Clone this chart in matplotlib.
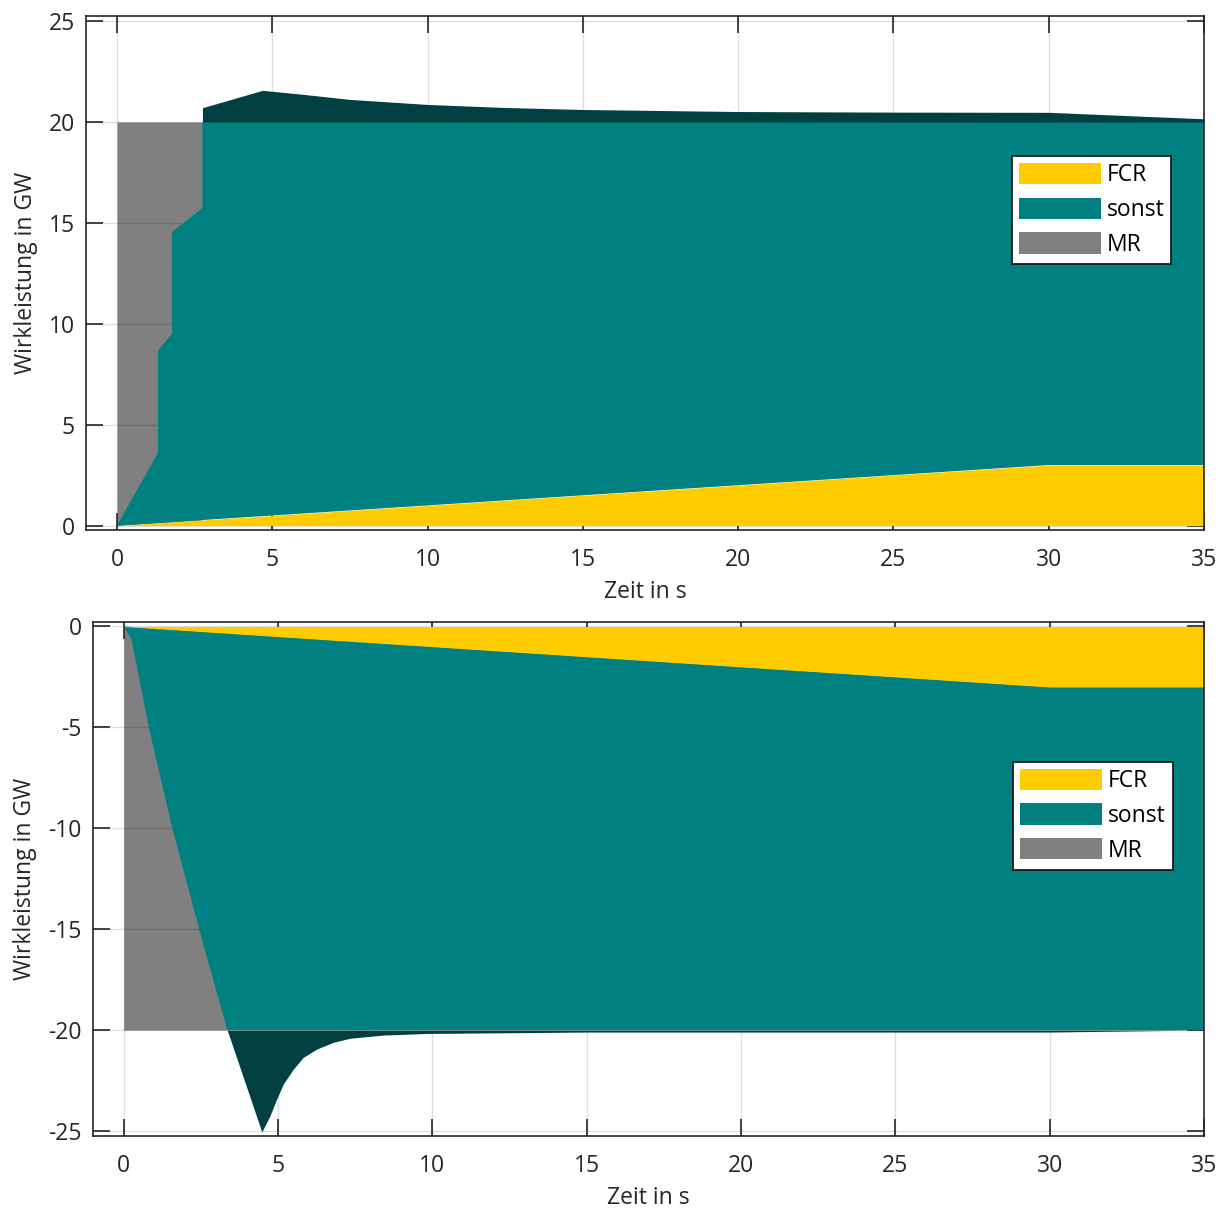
import numpy as np
import matplotlib
matplotlib.use("Agg")
import matplotlib.pyplot as plt
from matplotlib.patches import Patch

plt.rcParams['font.family'] = ['Open Sans', 'DejaVu Sans']
plt.rcParams['axes.unicode_minus'] = False

# Farben
C_FCR = "#FFCC00"
C_SONST = "#008080"
C_MR = "#808080"
C_OVER = "#004040"

# --- Daten oben (positiver Sprung) ---
t_top = [0, 1.32, 1.32, 1.77, 1.77, 2.75, 2.75, 4.68, 6.0, 7.5, 10, 12.5, 15, 20, 25, 30, 35]
p_top = [0, 3.62, 8.68, 9.51, 14.54, 15.75, 20.71, 21.57, 21.37, 21.12, 20.87, 20.72, 20.62, 20.52, 20.49, 20.48, 20.16]
fcr_t_top = [0, 30, 35]
fcr_p_top = [0, 3, 3]
mr_t_top = [0, 2.75]
mr_p_top = [20, 20]

# --- Daten unten (negativer Sprung) ---
t_bot = [0, 0.25, 0.81, 1.57, 2.44, 3.35, 4.47, 4.73, 4.95, 5.16, 5.49, 5.81, 6.24,
         6.78, 7.32, 8.4, 9.81, 15, 20, 25, 30, 35]
p_bot = [0, -0.65, -5, -10, -15, -20, -25.05, -24.26, -23.43, -22.69, -21.94, -21.36, -20.95,
         -20.61, -20.41, -20.25, -20.17, -20.1, -20.1, -20.1, -20.1, -20.0]
fcr_t_bot = [0, 30, 35]
fcr_p_bot = [0, -3, -3]
mr_t_bot = [0, 3.4]
mr_p_bot = [-20, -20]

xticks = [0, 5, 10, 15, 20, 25, 30, 35]
yticks_top = [0, 5, 10, 15, 20, 25]
yticks_bot = [-25, -20, -15, -10, -5, 0]

FS = 16.5


def draw_panel(ax, t, p, fcr_t, fcr_p, mr_t, mr_p, limit, yticks, ylim):
    t = np.array(t)
    p = np.array(p)
    fcr_t = np.array(fcr_t)
    fcr_p = np.array(fcr_p)

    # MR (hinten), beginnt an der FCR-Kante
    mr_base = np.interp(mr_t, fcr_t, fcr_p)
    ax.fill_between(mr_t, mr_base, mr_p, color=C_MR, lw=0, zorder=1)

    # Gitter zwischen MR und den anderen Flächen
    for xv in xticks:
        ax.axvline(xv, color="black", alpha=0.13, lw=1, zorder=1.5)
    for yv in yticks:
        ax.axhline(yv, color="black", alpha=0.13, lw=1, zorder=1.5)

    # sonst: zwischen FCR und begrenzter Gesamtkurve
    if limit > 0:
        upper = np.minimum(p, limit)
    else:
        upper = np.maximum(p, limit)
    xs = np.concatenate([t, fcr_t[::-1]])
    ys = np.concatenate([upper, fcr_p[::-1]])
    ax.fill(xs, ys, color=C_SONST, lw=0, zorder=2)

    # Überschwinger über die Grenze
    mask = np.abs(p) >= abs(limit)
    first = np.argmax(mask)
    ax.fill_between(t[first:], limit, p[first:], color=C_OVER, lw=0, zorder=2)

    # FCR
    ax.fill_between(fcr_t, 0, fcr_p, color=C_FCR, lw=0, zorder=2.2)

    ax.set_xlim(-1, 35)
    ax.set_ylim(*ylim)
    ax.set_xticks(xticks)
    ax.set_yticks(yticks)
    ax.tick_params(direction="in", length=12, width=1.2, top=True, right=True,
                   labelsize=FS, colors="#262626")
    ax.tick_params(axis="x", pad=13)
    ax.tick_params(axis="y", pad=8)
    for s in ax.spines.values():
        s.set_color("#262626")
        s.set_linewidth(1.2)
        s.set_zorder(3)
    ax.set_xlabel("Zeit in s", fontsize=FS, color="#262626", labelpad=6)
    ax.set_ylabel("Wirkleistung in GW", fontsize=FS, color="#262626", labelpad=8)

    handles = [Patch(facecolor=C_FCR, edgecolor="none", label="FCR"),
               Patch(facecolor=C_SONST, edgecolor="none", label="sonst"),
               Patch(facecolor=C_MR, edgecolor="none", label="MR")]
    leg = ax.legend(handles=handles, loc="upper left", bbox_to_anchor=(0.828, 0.728),
                    borderaxespad=0, fontsize=FS, handlelength=3.6, handleheight=1.05,
                    handletextpad=0.25, labelspacing=0.45, borderpad=0.3,
                    fancybox=False, framealpha=1, edgecolor="#1a1a1a")
    leg.get_frame().set_linewidth(1.3)
    leg.set_zorder(5)


fig = plt.figure(figsize=(12.25, 12.09), dpi=100)
ax1 = fig.add_axes([0.0702, 0.5616, 0.9127, 0.4251])
ax2 = fig.add_axes([0.0759, 0.0604, 0.9070, 0.4251])

draw_panel(ax1, t_top, p_top, fcr_t_top, fcr_p_top, mr_t_top, mr_p_top,
           20, yticks_top, (-0.22, 25.25))
draw_panel(ax2, t_bot, p_bot, fcr_t_bot, fcr_p_bot, mr_t_bot, mr_p_bot,
           -20, yticks_bot, (-25.25, 0.22))

fig.savefig("out.png", dpi=100)
